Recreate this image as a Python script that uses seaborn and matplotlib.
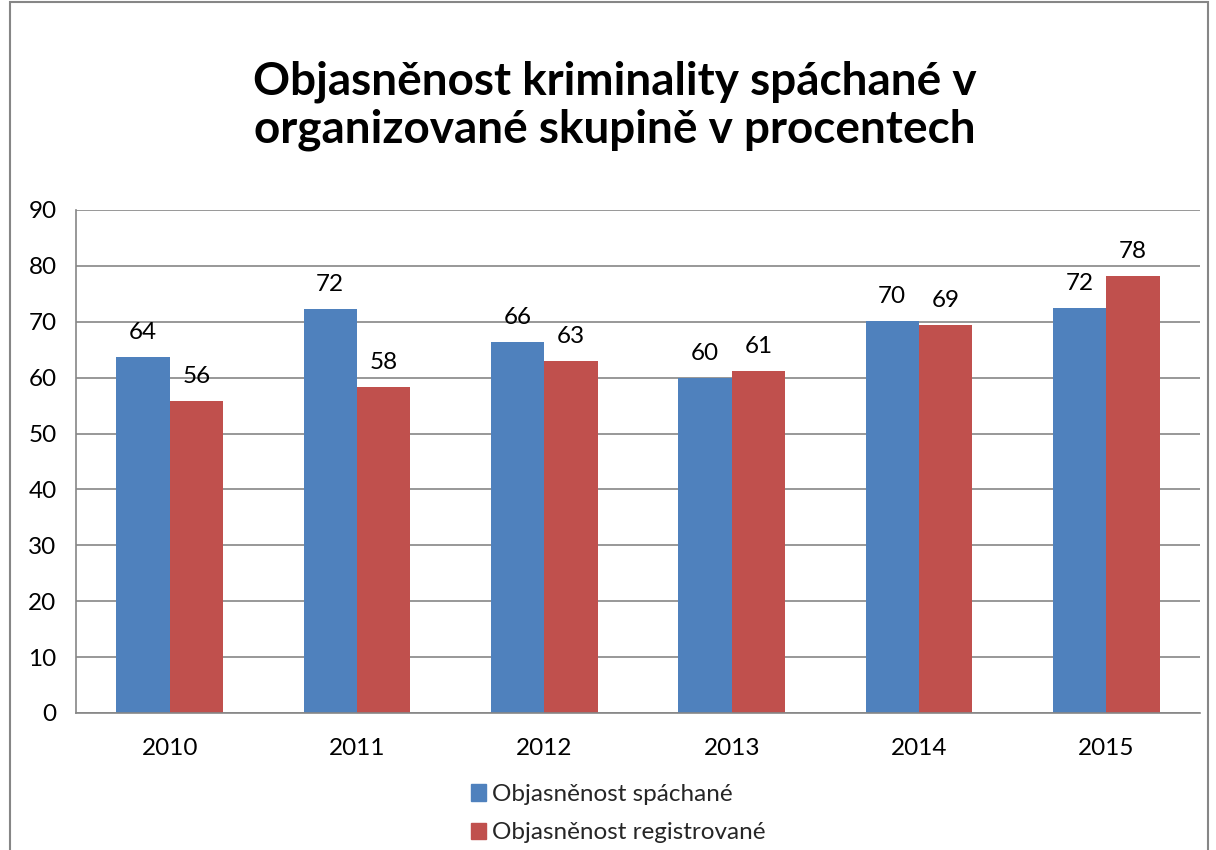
import numpy as np
import pandas as pd
import matplotlib
matplotlib.use("Agg")
import matplotlib.pyplot as plt
import matplotlib.patches as mpatches
import seaborn as sns

years = ["2010", "2011", "2012", "2013", "2014", "2015"]
spachane = [63.7, 72.3, 66.4, 59.9, 70.1, 72.5]
registrovane = [55.8, 58.3, 63.0, 61.2, 69.4, 78.2]
series = ["Objasněnost spáchané", "Objasněnost registrované"]
colors = ["#4F81BD", "#C0504D"]

df = pd.DataFrame({
    "rok": years * 2,
    "hodnota": spachane + registrovane,
    "serie": [series[0]] * 6 + [series[1]] * 6,
})

sns.set_style("white")
plt.rcParams["font.family"] = ["Lato", "DejaVu Sans"]

fig = plt.figure(figsize=(12.16, 8.5), dpi=100)
ax = fig.add_axes([0.0625, 0.1612, 0.9243, 0.5918])

sns.barplot(data=df, x="rok", y="hodnota", hue="serie", palette=colors,
            width=0.57, gap=0, saturation=1, linewidth=0, ax=ax, legend=False)

for c in ax.containers:
    ax.bar_label(c, labels=[f"{v:.0f}" for v in c.datavalues],
                 padding=10, fontsize=17.5, color="black")

ax.set_ylim(0, 90)
ax.set_yticks(np.arange(0, 91, 10))
ax.set_xlim(-0.5, 5.5)
ax.set_xlabel("")
ax.set_ylabel("")
ax.yaxis.grid(True, color="#868686", linewidth=1.2)
ax.set_axisbelow(True)
for s in ["top", "right"]:
    ax.spines[s].set_visible(False)
for s in ["left", "bottom"]:
    ax.spines[s].set_color("#868686")
    ax.spines[s].set_linewidth(1.2)

ax.set_xticks(np.arange(6))
ax.set_xticklabels(years, fontsize=17.5, color="black")
ax.tick_params(axis="x", length=0, pad=18)
ax.set_xticks(np.arange(-0.5, 6, 1), minor=True)
ax.tick_params(axis="x", which="minor", length=7, color="#868686", width=1.2)
ax.tick_params(axis="y", length=6, color="#868686", width=1.2, labelsize=17.5,
               labelcolor="black", pad=8)

fig.text(0.506, 0.876, "Objasněnost kriminality spáchané v\norganizované skupině v procentech",
         ha="center", va="center", fontsize=33, fontweight="bold", linespacing=1.17,
         color="black")

handles = [mpatches.Patch(color=colors[i], label=series[i]) for i in range(2)]
fig.legend(handles=handles, loc="upper left", bbox_to_anchor=(0.377, 0.092),
           frameon=False, fontsize=17.5, handlelength=0.65, handleheight=0.65,
           handletextpad=0.25, labelspacing=0.72, borderpad=0)

fig.patches.append(mpatches.Rectangle((10 / 1216, -0.05), 1198 / 1216, 1.048,
                                      transform=fig.transFigure, fill=False,
                                      edgecolor="#868686", linewidth=1.5))

fig.savefig("out.png", dpi=100)
